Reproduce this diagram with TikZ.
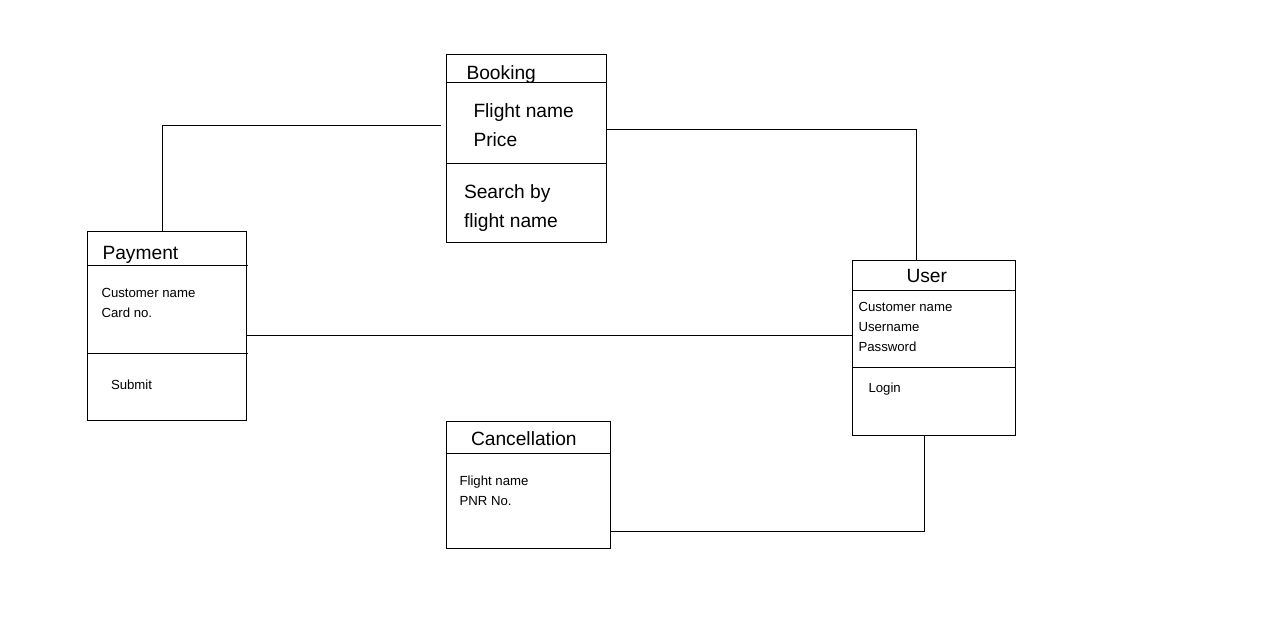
\documentclass[tikz,border=0pt]{standalone}
\usepackage{fontspec}
\setmainfont{Liberation Sans}
\begin{document}
\begin{tikzpicture}[x=1pt,y=-1pt,line width=1pt,
  cls/.style={draw,anchor=north west,inner sep=0pt,outer sep=0pt},
  big/.style={anchor=base west,inner sep=0pt,font=\fontsize{19.2}{23}\selectfont},
  small/.style={anchor=base west,inner sep=0pt,font=\fontsize{13.2}{16}\selectfont}]
\useasboundingbox[fill=white] (0,0) rectangle (1280,637);
% Booking
\node[cls,minimum width=160pt,minimum height=188pt] (book) at (446,54) {};
\draw (book.west |- 0,82) -- (book.east |- 0,82);
\draw (book.west |- 0,163) -- (book.east |- 0,163);
\node[big] (bt) at (466,79) {Booking};
\node[big] (b1) at (473,117.5) {Flight name};
\node[big] (b2) at (473,146) {Price};
\node[big] (b3) at (463.5,198) {Search by};
\node[big] (b4) at (463.5,227) {flight name};
% Payment
\node[cls,minimum width=159pt,minimum height=189pt] (pay) at (87,231) {};
\draw (pay.west |- 0,265) -- ([xshift=2]pay.east |- 0,265);
\draw (pay.west |- 0,353) -- ([xshift=2]pay.east |- 0,353);
\node[big] (pt) at (102,259.5) {Payment};
\node[small] (p1) at (101,297) {Customer name};
\node[small] (p2) at (101,317) {Card no.};
\node[small] (p3) at (110.5,389) {Submit};
% User
\node[cls,minimum width=163pt,minimum height=175pt] (user) at (852,260) {};
\draw (user.west |- 0,290) -- (user.east |- 0,290);
\draw (user.west |- 0,367) -- (user.east |- 0,367);
\node[big] (ut) at (906,282) {User};
\node[small] (u1) at (858,311) {Customer name};
\node[small] (u2) at (858,331) {Username};
\node[small] (u3) at (858,351) {Password};
\node[small] (u4) at (868,392.5) {Login};
% Cancellation
\node[cls,minimum width=164pt,minimum height=127pt] (can) at (446,421) {};
\draw (can.west |- 0,453) -- (can.east |- 0,453);
\node[big] (ct) at (470.5,445.5) {Cancellation};
\node[small] (c1) at (459,485) {Flight name};
\node[small] (c2) at (459,505.5) {PNR No.};
% connectors
\coordinate (bl) at (441,125);
\draw ([xshift=-4.5]pay.north) |- (bl);
\draw ([yshift=19]book.east) -| ([xshift=-17.5]user.north);
\draw ([yshift=-9.5]pay.east) -- ([yshift=-9.5]pay.east -| user.west);
\draw ([yshift=-46.5]can.east) -| ([xshift=-9.5]user.south);
\end{tikzpicture}
\end{document}
